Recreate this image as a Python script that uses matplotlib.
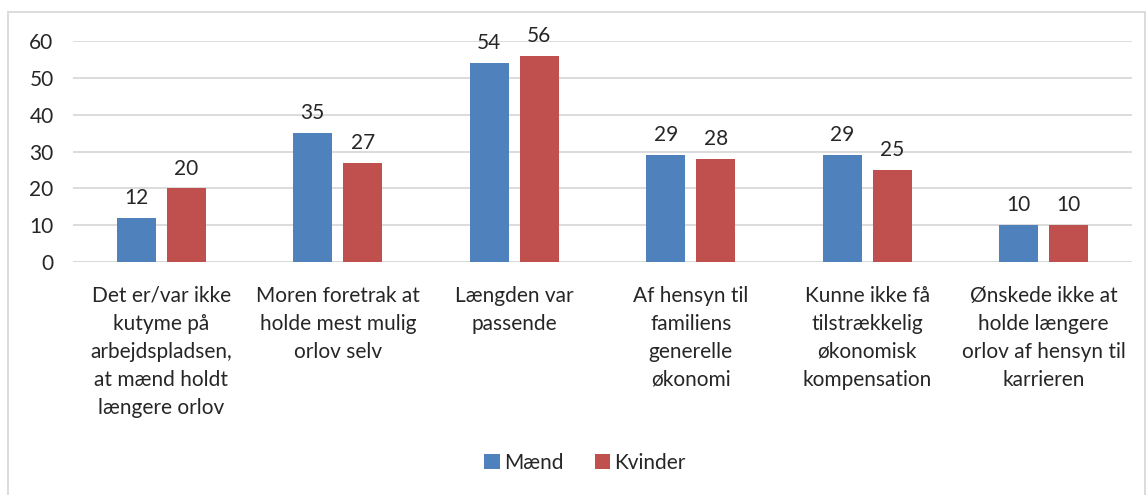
import numpy as np
import matplotlib.pyplot as plt
from matplotlib.patches import Rectangle

categories = ["Det er/var ikke\nkutyme på\narbejdspladsen,\nat mænd holdt\nlængere orlov",
              "Moren foretrak at\nholde mest mulig\norlov selv",
              "Længden var\npassende",
              "Af hensyn til\nfamiliens\ngenerelle\nøkonomi",
              "Kunne ikke få\ntilstrækkelig\nøkonomisk\nkompensation",
              "Ønskede ikke at\nholde længere\norlov af hensyn til\nkarrieren"]
maend = [12, 35, 54, 29, 29, 10]
kvinder = [20, 27, 56, 28, 25, 10]

plt.rcParams['font.family'] = ['Lato', 'DejaVu Sans']

fig = plt.figure(figsize=(11.47, 4.95), dpi=100)
ax = fig.add_axes([73/1147, 1 - 262/495, (1132-73)/1147, 221/495])

# outer chart border
fig.patches.append(Rectangle((8/1147, -0.01), (1145-8)/1147, 1 - 12/495 + 0.01,
                             transform=fig.transFigure, fill=False,
                             edgecolor='#d9d9d9', linewidth=1.3))

x = np.arange(len(categories))
w = 0.221
off = 0.142
b1 = ax.bar(x - off, maend, w, color='#4f81bd', label='Mænd', zorder=3)
b2 = ax.bar(x + off, kvinder, w, color='#c0504d', label='Kvinder', zorder=3)
ax.bar_label(b1, padding=7, fontsize=15, color='#262626')
ax.bar_label(b2, padding=7, fontsize=15, color='#262626')

ax.set_xlim(-0.5, len(categories) - 0.5)
ax.set_ylim(0, 60)
ax.set_yticks(range(0, 61, 10))
ax.yaxis.grid(True, color='#d9d9d9', linewidth=1.3, zorder=0)
for s in ax.spines.values():
    s.set_visible(False)
ax.tick_params(axis='both', length=0, labelsize=15, colors='#262626')
ax.tick_params(axis='y', pad=14)
ax.set_xticks(x)
ax.set_xticklabels(categories, linespacing=1.5, va='top')
ax.tick_params(axis='x', pad=17)
ax.axhline(0, color='#d9d9d9', linewidth=1.3, zorder=1)

fig.legend(handles=[b1, b2], loc='center', bbox_to_anchor=(585/1147, 1 - 463/495),
           ncol=2, frameon=False, fontsize=15, handlelength=0.75, handleheight=0.75,
           handletextpad=0.2, columnspacing=1.5, labelcolor='#262626')

fig.savefig("out.png", dpi=100)
